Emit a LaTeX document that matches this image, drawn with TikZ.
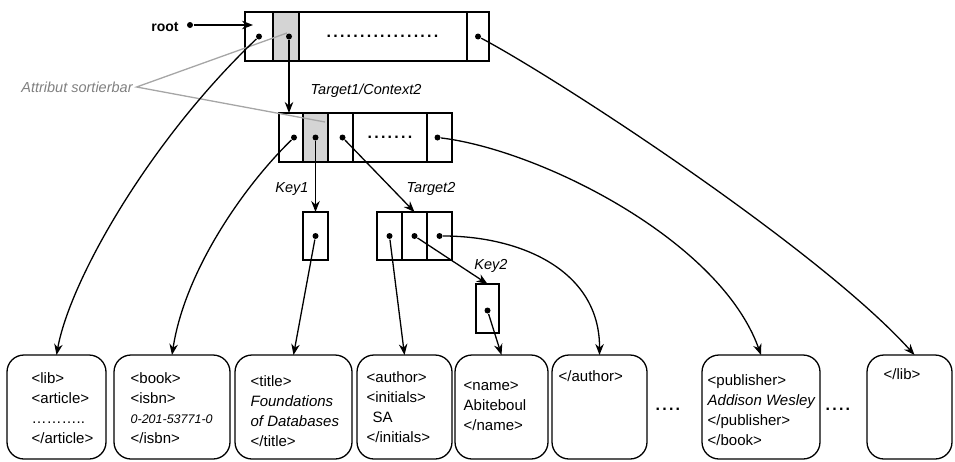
\documentclass[tikz,border=0pt]{standalone}
\usepackage{fontspec}
\setmainfont{Liberation Sans}
\usetikzlibrary{arrows.meta,positioning}

\newcommand{\ptrdots}[1]{\makebox[#1]{\leaders\hbox to 6.7pt{\hss.\hss}\hfill}}

\begin{document}
\begin{tikzpicture}[x=1pt, y=-1pt, >={Stealth[length=11pt,width=8.5pt]}, line width=1.3pt]
		\tikzstyle{cell} = [draw, minimum height=49pt, inner sep=0pt, outer sep=0pt, anchor=north west]
		\tikzstyle{shaded} = [cell, fill=black!17]
		\tikzstyle{ptr} = [circle, fill, minimum size=6pt, inner sep=0pt]
		\tikzstyle{doc} = [draw, rounded corners=17pt, minimum height=104pt, inner sep=0pt, outer sep=0pt, anchor=north west]
		\tikzstyle{txt} = [anchor=north west, inner sep=0pt, align=left, font=\fontsize{15}{20}\selectfont]
		\tikzstyle{lbl} = [font=\fontsize{14.5}{16}\selectfont\itshape]
		\tikzstyle{dotrow} = [font=\fontsize{16}{16}\selectfont\bfseries, inner sep=0pt]

		\useasboundingbox (0,0) rectangle (955,461);

		% root array
		\node[cell, minimum width=28pt] (t1) at (245,12) {};
		\node[shaded, minimum width=26pt, right=0pt of t1] (t2) {};
		\node[cell, minimum width=168pt, right=0pt of t2] (t3) {};
		\node[cell, minimum width=22pt, right=0pt of t3] (t4) {};
		\node[dotrow] at (t3.center) {\ptrdots{115pt}};
		\node[ptr] (p1) at (t1.center) {};
		\node[ptr] (p2) at ([xshift=3pt]t2.center) {};
		\node[ptr] (p4) at (t4.center) {};

		\node[font=\fontsize{14}{16}\selectfont\bfseries] (root) at (165,27) {root};
		\node[ptr] (rootptr) at (190,25) {};
		\coordinate (rootin) at (253,25);

		% Target1/Context2 array
		\node[cell, minimum width=24pt] (m1) at (279,113) {};
		\node[shaded, minimum width=25pt, right=0pt of m1] (m2) {};
		\node[cell, minimum width=25pt, right=0pt of m2] (m3) {};
		\node[cell, minimum width=74pt, right=0pt of m3] (m4) {};
		\node[cell, minimum width=25pt, right=0pt of m4] (m5) {};
		\node[dotrow] at (m4.center) {\ptrdots{47pt}};
		\node[ptr] (q1) at ([xshift=3pt]m1.center) {};
		\node[ptr] (q2) at (m2.center) {};
		\node[ptr] (q3) at ([xshift=2pt]m3.center) {};
		\node[ptr] (q5) at ([xshift=-2pt]m5.center) {};

		% Key1, Target2, Key2
		\node[cell, minimum width=25pt, minimum height=48pt] (k1) at (303,212) {};
		\node[cell, minimum width=25pt, minimum height=48pt] (c1) at (377,212) {};
		\node[cell, minimum width=25pt, minimum height=48pt, right=0pt of c1] (c2) {};
		\node[cell, minimum width=25pt, minimum height=48pt, right=0pt of c2] (c3) {};
		\node[cell, minimum width=23pt, minimum height=49pt] (k2) at (476,284) {};
		\node[ptr] (r1) at (k1.center) {};
		\node[ptr] (s1) at (c1.center) {};
		\node[ptr] (s2) at (c2.center) {};
		\node[ptr] (s3) at (c3.center) {};
		\node[ptr] (r2) at ([yshift=-2pt]k2.center) {};

		% labels
		\node[lbl, text=black!50] (attr) at (77,87) {Attribut sortierbar};
		\node[lbl] (tc) at (366,91) {Target1/Context2};
		\node[lbl] (key1) at (292,189) {Key1};
		\node[lbl] (tg2) at (431,189) {Target2};
		\node[lbl] (key2) at (491,266) {Key2};
		\coordinate (sortA) at (287,33);
		\coordinate (sortB) at (325,122);

		% document fragments
		\node[doc, minimum width=99pt] (b1) at (7,355) {};
		\node[doc, minimum width=116pt, right=8pt of b1] (b2) {};
		\node[doc, minimum width=117pt, right=5pt of b2] (b3) {};
		\node[doc, minimum width=95pt, right=5pt of b3] (b4) {};
		\node[doc, minimum width=93pt, right=3pt of b4] (b5) {};
		\node[doc, minimum width=95pt, right=4pt of b5] (b6) {};
		\node[doc, minimum width=118pt, right=55pt of b6] (b7) {};
		\node[doc, minimum width=85pt, right=47pt of b7] (b8) {};
		\node[dotrow] (gap1) at (668,409) {\ptrdots{27pt}};
		\node[dotrow] (gap2) at (838,409) {\ptrdots{27pt}};

		\node[txt, below right=17pt and 24pt of b1.north west] (x1) {<lib>\\<article>\\………..\\</article>};
		\node[txt, below right=17pt and 16pt of b2.north west] (x2) {<book>\\<isbn>\\{\fontsize{12.5}{20}\selectfont\itshape 0-201-53771-0}\\</isbn>};
		\node[txt, below right=20pt and 15pt of b3.north west] (x3) {<title>\\{\itshape Foundations}\\{\itshape of Databases}\\</title>};
		\node[txt, below right=16pt and 9pt of b4.north west] (x4) {<author>\\<initials>\\\hspace*{6pt}SA\\</initials>};
		\node[txt, below right=26pt and 8pt of b5.north west] (x5) {<name>\\Abiteboul\\</name>};
		\node[txt, below right=15pt and 6pt of b6.north west] (x6) {</author>};
		\node[txt, below right=19pt and 5pt of b7.north west] (x7) {<publisher>\\{\itshape Addison Wesley}\\</publisher>\\</book>};
		\node[txt, below right=13pt and 16pt of b8.north west] (x8) {</lib>};

		% pointers
		\draw[black!35] (sortA) -- (attr.east) -- (sortB);
		\draw[->] (rootptr) -- (rootin);
		\draw[->] (p2) -- (p2 |- m1.north);
		\draw[->] (q2) -- (k1.north);
		\draw[->] (q3) -- (c2.north);
		\draw[->] (s2) -- (k2.north);
		\draw[->] (r1) -- (b3.north);
		\draw[->] (s1) -- (b4.north);
		\draw[->] (r2) -- (b5.north);
		\draw[->] (p1) .. controls (150,140) and (70,280) .. (b1.north);
		\draw[->] (q1) .. controls (245,185) and (185,270) .. (b2.north);
		\draw[->] (s3) .. controls (520,236) and (600,270) .. (b6.north);
		\draw[->] (q5) .. controls (540,150) and (720,240) .. (b7.north);
		\draw[->] (p4) .. controls (560,80) and (820,250) .. ([xshift=5pt]b8.north);
		\end{tikzpicture}
\end{document}
